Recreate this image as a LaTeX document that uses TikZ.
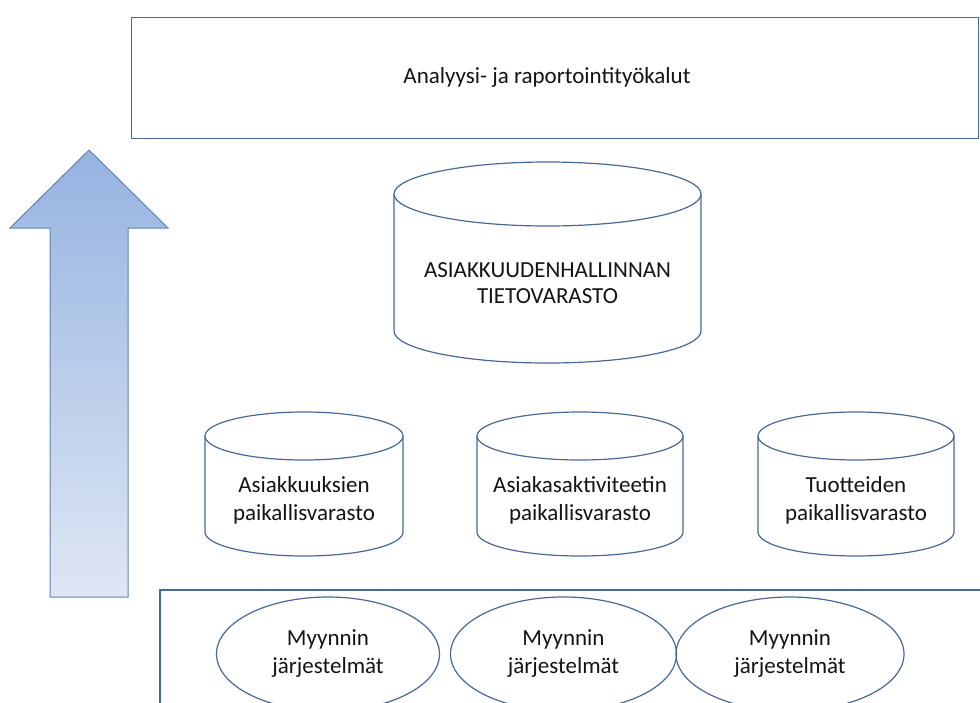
\documentclass[tikz,border=0pt]{standalone}
\usepackage{fontspec}
\usetikzlibrary{shapes.geometric}
\setmainfont{Carlito}
\definecolor{edge}{RGB}{74,104,150}
\definecolor{arrowedge}{RGB}{100,130,180}
\definecolor{arrowtop}{RGB}{149,179,225}
\definecolor{arrowbot}{RGB}{222,230,243}
\definecolor{ink}{RGB}{20,20,20}
\tikzset{
  outline/.style={draw=edge, line width=1.2pt},
  label/.style={text=ink, align=center, font=\fontsize{23}{28}\selectfont, inner sep=0pt},
}
% cylinder drawn from centre x, half width, top ellipse centre y, bottom ellipse centre y, half height of ellipses
\newcommand{\drum}[5]{%
  \draw[outline, fill=white] (#1-#2,#3) -- (#1-#2,#4) arc[start angle=180, end angle=0, x radius=#2, y radius=#5] -- (#1+#2,#3);
  \draw[outline, fill=white] (#1,#3) ellipse[x radius=#2, y radius=#5];
}
\begin{document}
\begin{tikzpicture}[x=1pt, y=-1pt]
\useasboundingbox (0,0) rectangle (980,702);
\clip (0,0) rectangle (980,702);

% top tool box
\node[outline, minimum width=847pt, minimum height=121pt, anchor=north west, inner sep=0pt] (tools) at (131,17) {};
\node[label] (toolstext) at (547,77) {Analyysi- ja raportointityökalut};

% upward arrow
\draw[draw=arrowedge, line width=1pt, top color=arrowtop, bottom color=arrowbot]
  (89,150) -- (168,228) -- (128,228) -- (128,597) -- (50,597) -- (50,228) -- (10,228) -- cycle;

% central warehouse
\drum{547.5}{153.5}{194}{331}{32}
\node[label, font=\fontsize{23}{26}\selectfont] (dw) at (547.5,283) {ASIAKKUUDENHALLINNAN\\TIETOVARASTO};

% local stores
\drum{304}{99}{436}{532}{24}
\node[label] (local1) at (304,500) {Asiakkuuksien\\paikallisvarasto};
\drum{580}{103}{436}{532}{24}
\node[label] (local2) at (580,500) {Asiakasaktiviteetin\\paikallisvarasto};
\drum{856}{98}{436}{532}{24}
\node[label] (local3) at (856,500) {Tuotteiden\\paikallisvarasto};

% source systems
\draw[outline] (1000,590) -- (160,590) -- (160,720);
\node[outline, ellipse, minimum width=223pt, minimum height=114pt, inner sep=0pt] (src1) at (328,654) {};
\node[outline, ellipse, minimum width=226pt, minimum height=114pt, inner sep=0pt] (src2) at (563.5,654) {};
\node[outline, ellipse, minimum width=228pt, minimum height=114pt, inner sep=0pt] (src3) at (790,654) {};
\node[label] at (src1.center) {Myynnin\\järjestelmät};
\node[label] at (src2.center) {Myynnin\\järjestelmät};
\node[label] at (src3.center) {Myynnin\\järjestelmät};
\end{tikzpicture}
\end{document}
